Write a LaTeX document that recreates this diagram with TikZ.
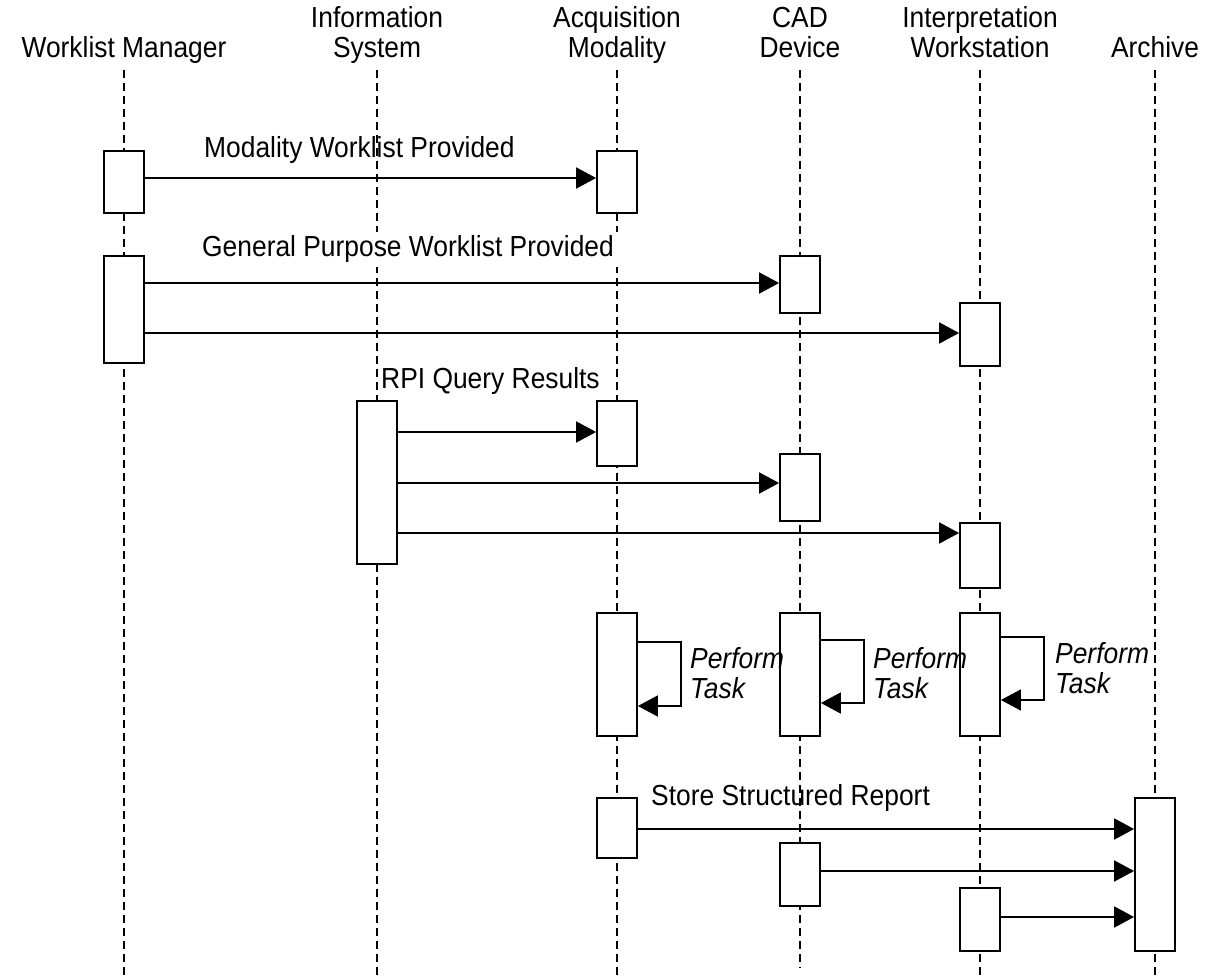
\documentclass[tikz,border=0pt]{standalone}
\usepackage{fontspec}
\setmainfont{Liberation Sans}[FakeStretch=0.91]
\usetikzlibrary{arrows.meta}
\begin{document}
\begin{tikzpicture}[x=1pt,y=-1pt,
  lifeline/.style={dash pattern=on 8pt off 5pt, line width=1.4pt},
  actbox/.style={draw, fill=white, line width=1.8pt, minimum width=40pt, inner sep=0pt, anchor=north},
  msg/.style={line width=1.8pt, -{Triangle[length=20pt,width=21pt]}},
  txt/.style={font=\fontsize{29}{30}\selectfont, inner sep=0pt},
  hdr/.style={txt, anchor=base},
  lbl/.style={txt, anchor=base west},
  task/.style={txt, font=\fontsize{29}{30}\selectfont\itshape, anchor=base west}]
\useasboundingbox (0,0) rectangle (1223,976);

% lifelines
\foreach \n/\x/\b in {wm/124/976, is/377/976, am/617/976, cad/800/968, iw/980/976, ar/1155/976}{
  \coordinate (\n top) at (\x,70);
  \coordinate (\n bot) at (\x,\b);
  \draw[lifeline] (\n top) -- (\n bot);
}

% participant headers
\node[hdr] (wmH) at (124,58) {Worklist Manager};
\node[hdr] (isH1) at (377,28) {Information};
\node[hdr] (isH2) at (377,58) {System};
\node[hdr] (amH1) at (617,28) {Acquisition};
\node[hdr] (amH2) at (617,58) {Modality};
\node[hdr] (cadH1) at (800,28) {CAD};
\node[hdr] (cadH2) at (800,58) {Device};
\node[hdr] (iwH1) at (980,28) {Interpretation};
\node[hdr] (iwH2) at (980,58) {Workstation};
\node[hdr] (arH) at (1155,58) {Archive};

% activation boxes
\node[actbox, minimum height=62pt] (wm1) at (124,150) {};
\node[actbox, minimum height=62pt] (am1) at (617,150) {};
\node[actbox, minimum height=107pt] (wm2) at (124,255) {};
\node[actbox, minimum height=57pt] (cad1) at (800,255) {};
\node[actbox, minimum height=63pt] (iw1) at (980,302) {};
\node[actbox, minimum height=163pt] (is1) at (377,400) {};
\node[actbox, minimum height=65pt] (am2) at (617,400) {};
\node[actbox, minimum height=67pt] (cad2) at (800,453) {};
\node[actbox, minimum height=65pt] (iw2) at (980,522) {};
\node[actbox, minimum height=123pt] (am3) at (617,612) {};
\node[actbox, minimum height=123pt] (cad3) at (800,612) {};
\node[actbox, minimum height=123pt] (iw3) at (980,612) {};
\node[actbox, minimum height=60pt] (am4) at (617,797) {};
\node[actbox, minimum height=63pt] (cad4) at (800,842) {};
\node[actbox, minimum height=63pt] (iw4) at (980,887) {};
\node[actbox, minimum height=153pt] (ar1) at (1155,797) {};

% message levels
\coordinate (y1) at (0,178);
\coordinate (y2) at (0,283);
\coordinate (y3) at (0,333);
\coordinate (y4) at (0,432);
\coordinate (y5) at (0,483);
\coordinate (y6) at (0,533);
\coordinate (y7) at (0,829);
\coordinate (y8) at (0,871);
\coordinate (y9) at (0,917);

% message labels
\node[lbl] (lMwl) at (204,158) {Modality Worklist Provided};
\node[lbl, fill=white, inner sep=4pt] (lGpwl) at (198,257) {General Purpose Worklist Provided};
\node[lbl] (lRpi) at (381,388) {RPI Query Results};
\node[lbl] (lSsr) at (651,805) {Store Structured Report};

% messages
\draw[msg] (wm1.east |- y1) -- (am1.west |- y1);
\draw[msg] (wm2.east |- y2) -- (cad1.west |- y2);
\draw[msg] (wm2.east |- y3) -- (iw1.west |- y3);
\draw[msg] (is1.east |- y4) -- (am2.west |- y4);
\draw[msg] (is1.east |- y5) -- (cad2.west |- y5);
\draw[msg] (is1.east |- y6) -- (iw2.west |- y6);
\draw[msg] (am4.east |- y7) -- (ar1.west |- y7);
\draw[msg] (cad4.east |- y8) -- (ar1.west |- y8);
\draw[msg] (iw4.east |- y9) -- (ar1.west |- y9);

% self messages
\foreach \b/\ya/\yb in {am3/642/706, cad3/640/703, iw3/637/700}{
  \coordinate (\b a) at (0,\ya);
  \coordinate (\b b) at (0,\yb);
  \draw[msg] (\b.east |- \b a) -- ++(43,0) |- (\b.east |- \b b);
}
\node[task] (tAm1) at (690,668) {Perform};
\node[task] (tAm2) at (690,698) {Task};
\node[task] (tCad1) at (873,668) {Perform};
\node[task] (tCad2) at (873,698) {Task};
\node[task] (tIw1) at (1055,663) {Perform};
\node[task] (tIw2) at (1055,693) {Task};
\end{tikzpicture}
\end{document}
